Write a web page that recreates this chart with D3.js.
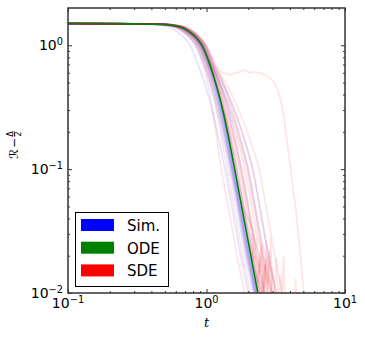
<!DOCTYPE html>
<html>
<head>
<meta charset="utf-8">
<script src="https://cdn.jsdelivr.net/npm/d3@7"></script>
<style>
  body { margin: 0; background: #fff; }
  svg { display: block; font-family: "DejaVu Sans", sans-serif; }
</style>
</head>
<body>
<div id="chart"></div>
<script>
// R levels; every trajectory is stored as the times t at which it crosses them
const levels = [1.5, 1.49, 1.46, 1.4, 1.3, 1.15, 1.0, 0.85, 0.7, 0.55, 0.4, 0.28, 0.18, 0.1, 0.055, 0.03, 0.018, 0.01, 0.006]

const odeTimes = [0.1, 0.30, 0.545, 0.655, 0.741, 0.843, 0.926, 0.990, 1.056, 1.134, 1.229, 1.329, 1.444, 1.597, 1.765, 1.953, 2.127, 2.346, 2.556]

const simTimes = [
  [0.1, 0.285, 0.518, 0.621, 0.704, 0.801, 0.879, 0.940, 1.005, 1.080, 1.169, 1.262, 1.373, 1.517, 1.678, 1.848, 2.007, 2.236, 2.430],
  [0.1, 0.312, 0.567, 0.680, 0.771, 0.877, 0.962, 1.029, 1.100, 1.180, 1.275, 1.375, 1.491, 1.646, 1.819, 2.003, 2.176, 2.425, 2.635],
  [0.1, 0.276, 0.501, 0.602, 0.682, 0.775, 0.851, 0.911, 0.973, 1.051, 1.142, 1.239, 1.352, 1.502, 1.660, 1.828, 1.986, 2.213, 2.405],
  [0.1, 0.318, 0.578, 0.693, 0.785, 0.894, 0.981, 1.049, 1.121, 1.219, 1.334, 1.457, 1.601, 1.789, 1.978, 2.178, 2.367, 2.636, 2.865],
  [0.1, 0.294, 0.534, 0.641, 0.726, 0.826, 0.907, 0.970, 1.037, 1.112, 1.201, 1.295, 1.404, 1.549, 1.713, 1.887, 2.050, 2.283, 2.481],
  [0.1, 0.306, 0.556, 0.667, 0.756, 0.860, 0.944, 1.010, 1.079, 1.212, 1.369, 1.539, 1.739, 1.997, 2.208, 2.431, 2.641, 2.943, 3.198],
  [0.1, 0.270, 0.491, 0.589, 0.667, 0.759, 0.833, 0.891, 0.952, 1.028, 1.118, 1.212, 1.323, 1.469, 1.625, 1.789, 1.944, 2.166, 2.353],
  [0.1, 0.300, 0.545, 0.654, 0.741, 0.843, 0.925, 0.990, 1.058, 1.142, 1.241, 1.345, 1.467, 1.629, 1.801, 1.984, 2.155, 2.401, 2.609],
  [0.1, 0.309, 0.561, 0.674, 0.763, 0.868, 0.953, 1.019, 1.090, 1.244, 1.425, 1.625, 1.858, 2.156, 2.384, 2.626, 2.853, 3.178, 3.453],
  [0.1, 0.291, 0.529, 0.634, 0.719, 0.818, 0.897, 0.960, 1.026, 1.107, 1.204, 1.306, 1.424, 1.582, 1.748, 1.926, 2.092, 2.330, 2.532],
  [0.1, 0.246, 0.447, 0.536, 0.608, 0.692, 0.759, 0.812, 0.868, 0.939, 1.024, 1.114, 1.219, 1.358, 1.501, 1.653, 1.796, 2.001, 2.174],
  [0.1, 0.288, 0.523, 0.629, 0.711, 0.809, 0.889, 0.950, 1.014, 1.089, 1.180, 1.276, 1.386, 1.533, 1.694, 1.875, 2.042, 2.252, 2.454],
  [0.1, 0.297, 0.540, 0.648, 0.734, 0.835, 0.917, 0.980, 1.045, 1.118, 1.207, 1.300, 1.406, 1.549, 1.712, 1.894, 2.063, 2.276, 2.479],
  [0.1, 0.303, 0.550, 0.662, 0.748, 0.851, 0.935, 1.000, 1.067, 1.139, 1.227, 1.318, 1.424, 1.565, 1.730, 1.914, 2.084, 2.299, 2.505]
]

const sdeTimes = [
  [0.1, 0.288, 0.523, 0.628, 0.711, 0.810, 0.888, 0.950, 1.016, 1.112, 1.226, 1.348, 1.491, 1.677, 1.854, 2.042, 2.219, 2.472, 2.686],
  [0.1, 0.306, 0.556, 0.667, 0.756, 0.860, 0.944, 1.010, 1.079, 1.196, 1.334, 1.484, 1.658, 1.885, 2.084, 2.295, 2.600, 2.500, 3.018],
  [0.1, 0.315, 0.572, 0.687, 0.778, 0.886, 0.971, 1.039, 1.111, 1.262, 1.440, 1.635, 1.864, 2.156, 2.384, 2.626, 2.853, 3.178, 3.453],
  [0.1, 0.279, 0.507, 0.608, 0.689, 0.785, 0.860, 0.920, 0.984, 1.046, 1.120, 1.197, 1.286, 1.406, 1.554, 1.712, 1.859, 2.072, 2.251],
  [0.1, 0.300, 0.545, 0.654, 0.741, 0.843, 0.925, 0.990, 1.058, 1.164, 1.290, 1.425, 1.583, 1.789, 1.978, 2.178, 2.450, 2.360, 2.865],
  [0.1, 0.318, 0.578, 0.693, 0.785, 0.894, 0.981, 1.049, 1.121, 1.305, 1.521, 1.760, 2.040, 2.396, 2.649, 2.918, 3.170, 3.531, 3.837],
  [0.1, 0.294, 0.534, 0.641, 0.726, 0.826, 0.907, 0.970, 1.037, 1.137, 1.256, 1.383, 1.531, 1.726, 1.907, 2.101, 2.282, 2.542, 2.763],
  [0.1, 0.282, 0.512, 0.615, 0.697, 0.793, 0.870, 0.930, 0.995, 1.070, 1.160, 1.255, 1.364, 1.517, 1.678, 1.848, 2.007, 2.236, 2.430],
  [0.1, 0.324, 0.589, 0.706, 0.800, 0.911, 0.999, 1.069, 1.143, 1.267, 1.413, 1.571, 1.756, 1.997, 2.208, 2.431, 2.750, 2.943, 3.198],
  [0.1, 0.300, 0.545, 0.654, 0.741, 0.843, 0.925, 0.990, 1.058, 1.187, 1.339, 1.505, 1.698, 1.948, 2.155, 2.373, 2.578, 2.872, 3.121],
  [0.1, 0.270, 0.491, 0.589, 0.667, 0.759, 0.833, 0.891, 0.952, 1.001, 1.059, 1.117, 1.185, 1.278, 1.413, 1.556, 1.690, 1.883, 2.046],
  [0.1, 0.309, 0.561, 0.674, 0.763, 0.868, 0.953, 1.019, 1.090, 1.187, 1.302, 1.425, 1.568, 1.757, 1.943, 2.140, 2.324, 2.589, 2.814],
  [0.1, 0.297, 0.540, 0.648, 0.734, 0.835, 0.917, 0.980, 1.045, 1.125, 1.222, 1.324, 1.441, 1.597, 1.765, 2.200, 2.150, 2.500, 2.556],
  [0.1, 0.303, 0.550, 0.662, 0.748, 0.851, 0.935, 1.000, 1.067, 1.150, 1.251, 1.358, 1.482, 1.645, 1.818, 2.012, 2.191, 2.416, 2.633]
]

// noisy bits near the bottom of the SDE runs, [t, R]
const sdeSpikes = [
  [[2.25, 0.02], [2.35, 0.012], [2.45, 0.022], [2.55, 0.009], [2.65, 0.017], [2.75, 0.008]],
  [[2.4, 0.016], [2.5, 0.025], [2.6, 0.011], [2.7, 0.019], [2.8, 0.008]],
  [[2.55, 0.008], [2.65, 0.017], [2.75, 0.009], [2.85, 0.022], [2.95, 0.008]],
  [[2.9, 0.007], [3.0, 0.016], [3.1, 0.01], [3.2, 0.019], [3.3, 0.007]],
  [[3.3, 0.008], [3.4, 0.014], [3.5, 0.009], [3.6, 0.02], [3.7, 0.007]],
  [[2.6, 0.007], [2.7, 0.026], [2.8, 0.012], [2.9, 0.028], [3.0, 0.008]],
  [[2.1, 0.03], [2.2, 0.018], [2.3, 0.028], [2.4, 0.014], [2.5, 0.02], [2.6, 0.009]],
  [[4.3, 0.007], [4.4, 0.013], [4.5, 0.007]]
]

// the one SDE run that stalls on a plateau
const sdeOutlier = [
  [0.1, 1.5], [0.32, 1.49], [0.58, 1.46], [0.70, 1.4], [0.79, 1.3], [0.90, 1.15],
  [0.99, 1.0], [1.07, 0.85], [1.14, 0.72], [1.22, 0.64], [1.3, 0.6], [1.4, 0.59],
  [1.5, 0.58], [1.62, 0.6], [1.75, 0.61], [1.9, 0.63], [2.05, 0.6], [2.2, 0.61],
  [2.4, 0.6], [2.6, 0.58], [2.8, 0.55], [3.0, 0.52], [3.23, 0.45], [3.51, 0.32],
  [3.81, 0.17], [4.14, 0.082], [4.5, 0.039], [4.81, 0.018], [5.06, 0.01], [5.2, 0.007]
]

const xTicks = [0.1, 1, 10]
const xTickExp = ["−1", "0", "1"]
const yTicks = [0.01, 0.1, 1]
const yTickExp = ["−2", "−1", "0"]

const legendItems = [
  {label: "Sim.", color: "#0000ff"},
  {label: "ODE", color: "#008000"},
  {label: "SDE", color: "#ff0000"}
]

const width = 365, height = 338
const margin = {top: 8, right: 20, bottom: 45, left: 68}

const x = d3.scaleLog([0.1, 10], [margin.left, width - margin.right])
const y = d3.scaleLog([0.01, 2], [height - margin.bottom, margin.top])

const svg = d3.select("#chart").append("svg")
  .attr("width", width)
  .attr("height", height)

svg.append("clipPath").attr("id", "plot-clip")
  .append("rect")
    .attr("x", x.range()[0])
    .attr("y", y.range()[1])
    .attr("width", x.range()[1] - x.range()[0])
    .attr("height", y.range()[0] - y.range()[1])

const line = d3.line()
  .x(d => x(d[0]))
  .y(d => y(d[1]))
  .curve(d3.curveCatmullRom.alpha(0.5))

const toPairs = times => times.map((t, i) => [t, levels[i]])

const lines = svg.append("g").attr("clip-path", "url(#plot-clip)").attr("fill", "none")

lines.append("g")
    .attr("stroke", "#0000ff")
    .attr("stroke-width", 1.8)
    .attr("stroke-opacity", 0.1)
  .selectAll("path")
  .data(simTimes)
  .join("path")
    .attr("d", d => line(toPairs(d)))

const sde = lines.append("g")
  .attr("stroke", "#ff0000")
  .attr("stroke-width", 1.8)
  .attr("stroke-opacity", 0.1)

sde.selectAll("path.run")
  .data(sdeTimes)
  .join("path")
    .attr("class", "run")
    .attr("d", d => line(toPairs(d)))

sde.selectAll("path.spike")
  .data(sdeSpikes)
  .join("path")
    .attr("class", "spike")
    .attr("d", d3.line().x(d => x(d[0])).y(d => y(d[1])))

sde.append("path")
  .attr("d", line(sdeOutlier))

lines.append("path")
  .attr("stroke", "#008000")
  .attr("stroke-width", 1.6)
  .attr("d", line(toPairs(odeTimes)))

// minor ticks
const minorX = [0.1, 1].flatMap(d => d3.range(2, 10).map(k => d * k))
const minorY = [0.01, 0.1].flatMap(d => d3.range(2, 10).map(k => d * k))

const axes = svg.append("g").attr("color", "#333")
const fmtNone = () => ""

axes.append("g")
  .attr("transform", `translate(0,${y.range()[0]})`)
  .call(d3.axisBottom(x).tickValues(xTicks).tickSize(-4).tickFormat(fmtNone))
axes.append("g")
  .attr("transform", `translate(0,${y.range()[0]})`)
  .call(d3.axisBottom(x).tickValues(minorX).tickSize(-2).tickFormat(fmtNone))
axes.append("g")
  .attr("transform", `translate(0,${y.range()[1]})`)
  .call(d3.axisTop(x).tickValues(xTicks).tickSize(-4).tickFormat(fmtNone))
axes.append("g")
  .attr("transform", `translate(0,${y.range()[1]})`)
  .call(d3.axisTop(x).tickValues(minorX).tickSize(-2).tickFormat(fmtNone))
axes.append("g")
  .attr("transform", `translate(${x.range()[0]},0)`)
  .call(d3.axisLeft(y).tickValues(yTicks).tickSize(-4).tickFormat(fmtNone))
axes.append("g")
  .attr("transform", `translate(${x.range()[0]},0)`)
  .call(d3.axisLeft(y).tickValues(minorY).tickSize(-2).tickFormat(fmtNone))
axes.append("g")
  .attr("transform", `translate(${x.range()[1]},0)`)
  .call(d3.axisRight(y).tickValues(yTicks).tickSize(-4).tickFormat(fmtNone))
axes.append("g")
  .attr("transform", `translate(${x.range()[1]},0)`)
  .call(d3.axisRight(y).tickValues(minorY).tickSize(-2).tickFormat(fmtNone))

axes.selectAll(".domain").remove()
axes.selectAll(".tick line").attr("stroke-width", 1)

axes.append("rect")
  .attr("x", x.range()[0])
  .attr("y", y.range()[1])
  .attr("width", x.range()[1] - x.range()[0])
  .attr("height", y.range()[0] - y.range()[1])
  .attr("fill", "none")
  .attr("stroke", "#333")
  .attr("stroke-width", 1.5)

// tick labels as 10^n
const pow10 = (sel, exp) => {
  sel.append("tspan").text("10")
  sel.append("tspan").attr("dy", "-0.5em").attr("font-size", "0.7em").text(exp)
}

svg.append("g")
    .attr("font-size", 14)
    .attr("fill", "#000")
  .selectAll("text")
  .data(xTicks)
  .join("text")
    .attr("x", d => x(d))
    .attr("y", y.range()[0] + 15)
    .attr("text-anchor", "middle")
    .each(function(d, i) { pow10(d3.select(this), xTickExp[i]) })

svg.append("g")
    .attr("font-size", 14)
    .attr("fill", "#000")
  .selectAll("text")
  .data(yTicks)
  .join("text")
    .attr("x", x.range()[0] - 5)
    .attr("y", d => y(d) + 5)
    .attr("text-anchor", "end")
    .each(function(d, i) { pow10(d3.select(this), yTickExp[i]) })

// axis labels
svg.append("text")
  .attr("x", x(1))
  .attr("y", 327)
  .attr("text-anchor", "middle")
  .attr("font-family", "DejaVu Serif, serif")
  .attr("font-style", "italic")
  .attr("font-size", 13)
  .text("t")

const ylab = svg.append("g")
  .attr("transform", `translate(18,159) rotate(-90)`)
  .attr("font-size", 12)
ylab.append("text")
  .attr("x", 0).attr("y", 0)
  .text("ℛ")
ylab.append("text")
  .attr("x", 11).attr("y", 0)
  .text("−")
ylab.append("text")
  .attr("x", 25).attr("y", -5)
  .attr("text-anchor", "middle")
  .attr("font-size", 8)
  .text("Δ")
ylab.append("line")
  .attr("x1", 22).attr("x2", 28)
  .attr("y1", -3.5).attr("y2", -3.5)
  .attr("stroke", "#000").attr("stroke-width", 0.6)
ylab.append("text")
  .attr("x", 25).attr("y", 3)
  .attr("text-anchor", "middle")
  .attr("font-size", 8)
  .text("2")

// legend
const legend = svg.append("g")
legend.append("rect")
  .attr("x", 75.5).attr("y", 212.5)
  .attr("width", 93).attr("height", 74)
  .attr("fill", "#fff")
  .attr("stroke", "#000")
  .attr("stroke-width", 1)

const rows = legend.selectAll("g.row")
  .data(legendItems)
  .join("g")
    .attr("class", "row")
    .attr("transform", (d, i) => `translate(0,${225 + i * 22.7})`)
rows.append("rect")
  .attr("x", 81).attr("y", -6)
  .attr("width", 33).attr("height", 12)
  .attr("fill", d => d.color)
rows.append("text")
  .attr("x", 127).attr("y", 6)
  .attr("font-size", 15)
  .text(d => d.label)
</script>
</body>
</html>
